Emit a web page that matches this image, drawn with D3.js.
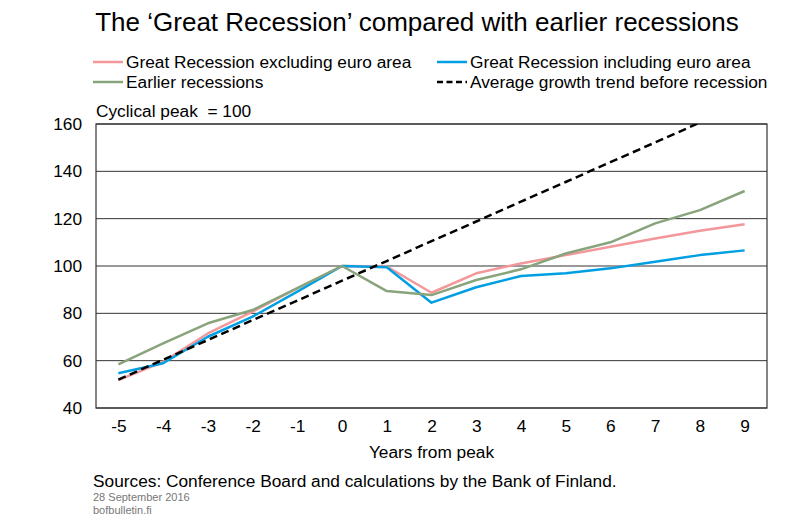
<!DOCTYPE html>
<html lang="en">
<head>
    <meta charset="UTF-8">
    <title>The Great Recession compared with earlier recessions</title>
    <script src="https://d3js.org/d3.v7.min.js"></script>
    <style>
        body { margin: 0; background: #fff; }
        text { font-family: "Liberation Sans", Arial, sans-serif; white-space: pre; }
    </style>
</head>
<body>
    <svg width="800" height="522"></svg>

    <script>
        // Years from cyclical peak
        const years = [-5, -4, -3, -2, -1, 0, 1, 2, 3, 4, 5, 6, 7, 8, 9];
        const yTicks = [40, 60, 80, 100, 120, 140, 160];

        // Index values (cyclical peak = 100)
        const exclEuro = [51.8, 59.5, 71.5, 80.7, 90.6, 100, 99.8, 88.7, 96.9, 101.1, 104.6, 108.1, 111.6, 114.9, 117.6];
        const inclEuro = [54.7, 58.9, 70.1, 78.6, 89.2, 100, 99.5, 84.5, 91.0, 95.8, 96.9, 99.0, 101.8, 104.6, 106.6];
        const earlier = [58.4, 67.3, 75.8, 81.4, 90.6, 100, 89.4, 87.7, 94.1, 98.6, 105.3, 110.0, 118.0, 123.6, 131.7];
        const trend = [52.0, 60.4, 68.7, 77.1, 85.4, 93.8, 102.1, 110.5, 118.8, 127.2, 135.5, 143.9, 152.2, 160.6];

        const series = [
            { name: "Great Recession excluding euro area", values: exclEuro, color: "#f4979a", dash: null },
            { name: "Great Recession including euro area", values: inclEuro, color: "#009fe3", dash: null },
            { name: "Earlier recessions", values: earlier, color: "#88a47c", dash: null },
            { name: "Average growth trend before recession", values: trend, color: "#000", dash: "8,4.5" }
        ];

        const svg = d3.select("svg");
        const plot = { left: 96, right: 767, top: 124, bottom: 408 };
        const fs = "17.3px";

        const x = d3.scalePoint()
            .domain(years)
            .range([plot.left, plot.right])
            .padding(0.5);

        const y = d3.scaleLinear()
            .domain([40, 160])
            .range([plot.bottom, plot.top]);

        // Title
        svg.append("text")
            .attr("x", 417)
            .attr("y", 31)
            .attr("text-anchor", "middle")
            .style("font-size", "26px")
            .text("The \u2018Great Recession\u2019 compared with earlier recessions");

        // Legend (two columns, two rows)
        const legendPos = [[93, 62], [437, 62], [93, 82], [437, 82]];
        series.forEach((s, i) => {
            const [lx, ly] = legendPos[i];
            svg.append("line")
                .attr("x1", lx).attr("x2", lx + 30)
                .attr("y1", ly).attr("y2", ly)
                .attr("stroke", s.color)
                .attr("stroke-width", 2.5)
                .attr("stroke-dasharray", s.dash ? "6,3.5" : null);
            svg.append("text")
                .attr("x", lx + 33)
                .attr("y", ly + 6)
                .style("font-size", fs)
                .text(s.name);
        });

        svg.append("text")
            .attr("x", 96)
            .attr("y", 117)
            .style("font-size", fs)
            .text("Cyclical peak  = 100");

        // Gridlines
        svg.append("g")
            .selectAll("line")
            .data(yTicks)
            .enter()
            .append("line")
            .attr("x1", plot.left).attr("x2", plot.right)
            .attr("y1", d => y(d)).attr("y2", d => y(d))
            .attr("stroke", "#333")
            .attr("stroke-width", 1);

        // Frame
        svg.append("rect")
            .attr("x", plot.left).attr("y", plot.top)
            .attr("width", plot.right - plot.left)
            .attr("height", plot.bottom - plot.top)
            .attr("fill", "none")
            .attr("stroke", "#333")
            .attr("stroke-width", 1.2);

        // Y axis labels
        const yAxis = svg.append("g")
            .attr("transform", `translate(${plot.left},0)`)
            .call(d3.axisLeft(y).tickValues(yTicks).tickSize(0).tickPadding(14));
        yAxis.select(".domain").remove();
        yAxis.selectAll("text")
            .style("font-size", fs)
            .attr("fill", "#000");

        // X axis labels
        const xAxis = svg.append("g")
            .attr("transform", `translate(0,${plot.bottom})`)
            .call(d3.axisBottom(x).tickSize(0).tickPadding(12));
        xAxis.select(".domain").remove();
        xAxis.selectAll("text")
            .style("font-size", fs)
            .attr("fill", "#000");

        svg.append("text")
            .attr("x", (plot.left + plot.right) / 2)
            .attr("y", 458)
            .attr("text-anchor", "middle")
            .style("font-size", fs)
            .text("Years from peak");

        // Lines (clip to plot so the trend stops at 160)
        svg.append("clipPath")
            .attr("id", "plot-clip")
            .append("rect")
            .attr("x", plot.left).attr("y", plot.top)
            .attr("width", plot.right - plot.left)
            .attr("height", plot.bottom - plot.top);

        const line = d3.line()
            .x((d, i) => x(years[i]))
            .y(d => y(d));

        series.forEach(s => {
            svg.append("path")
                .datum(s.values)
                .attr("clip-path", "url(#plot-clip)")
                .attr("fill", "none")
                .attr("stroke", s.color)
                .attr("stroke-width", 2.5)
                .attr("stroke-linejoin", "round")
                .attr("stroke-dasharray", s.dash)
                .attr("d", line);
        });

        // Footer
        svg.append("text")
            .attr("x", 93)
            .attr("y", 487)
            .style("font-size", fs)
            .text("Sources: Conference Board and calculations by the Bank of Finland.");

        svg.append("text")
            .attr("x", 93)
            .attr("y", 501)
            .attr("fill", "#777")
            .style("font-size", "11px")
            .text("28 September 2016");

        svg.append("text")
            .attr("x", 93)
            .attr("y", 514)
            .attr("fill", "#777")
            .style("font-size", "11px")
            .text("bofbulletin.fi");
    </script>
</body>
</html>
